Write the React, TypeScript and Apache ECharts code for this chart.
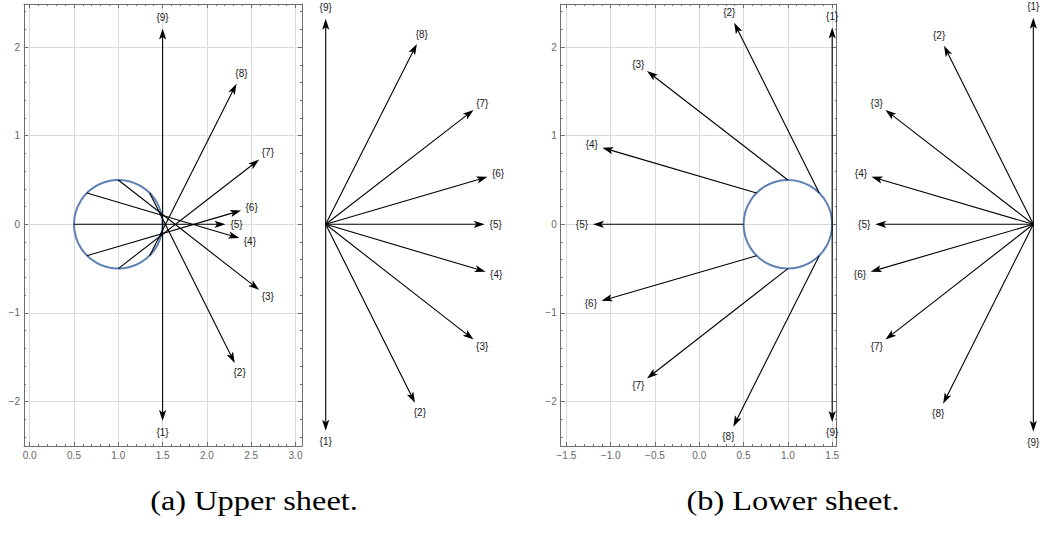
import React, { useEffect, useRef } from 'react';
import * as echarts from 'echarts';

// ---------- data ----------
const arrowLabels = ['{1}', '{2}', '{3}', '{4}', '{5}', '{6}', '{7}', '{8}', '{9}'];
// arrow start points on the circle (both sheets)
const startX = [1.5, 1.354, 1.0, 0.646, 0.5, 0.646, 1.0, 1.354, 1.5];
const startY = [0, 0.354, 0.5, 0.354, 0, -0.354, -0.5, -0.354, 0];
// arrow vectors, upper sheet
const upperDX = [0, 0.96, 1.59, 1.72, 1.71, 1.74, 1.59, 0.98, 0];
const upperDY = [-2.22, -1.92, -1.24, -0.51, 0, 0.51, 1.23, 1.94, 2.21];
// arrow vectors, lower sheet
const lowerDX = [0, -0.96, -1.59, -1.74, -1.7, -1.75, -1.59, -0.97, 0];
const lowerDY = [2.22, 1.92, 1.23, 0.51, 0, -0.51, -1.24, -1.93, -2.23];
const circle = [1, 0, 0.5]; // cx, cy, r
const upperXTicks = [0, 0.5, 1, 1.5, 2, 2.5, 3];
const lowerXTicks = [-1.5, -1, -0.5, 0, 0.5, 1, 1.5];
const yTicks = [-2, -1, 0, 1, 2];
const captions = ['(a) Upper sheet.', '(b) Lower sheet.'];

// ---------- helpers ----------
const FRAME = '#6e6e6e';
const GRID = '#dadada';
const minus = (s: string) => s.replace('-', '\u2212');

function steps(a: number, b: number, st: number) {
  const out: number[] = [];
  const n = Math.round((b - a) / st);
  for (let i = 0; i <= n; i++) out.push(+(a + i * st).toFixed(3));
  return out;
}

function frameAxes(
  kind: 'x' | 'y',
  gridIndex: number,
  min: number,
  max: number,
  majors: number[],
  minors: number[],
  fmt: (v: number) => string
) {
  const posA = kind === 'x' ? 'bottom' : 'left';
  const posB = kind === 'x' ? 'top' : 'right';
  const base = { type: 'value', gridIndex, min, max, scale: true };
  const tick = (vals: number[], len: number) => ({
    show: true,
    inside: true,
    length: len,
    customValues: vals,
    lineStyle: { color: FRAME, width: 1 },
  });
  return [
    {
      ...base,
      position: posA,
      axisLine: { show: true, onZero: false, lineStyle: { color: FRAME, width: 1 } },
      axisTick: tick(majors, 4),
      axisLabel: {
        show: true,
        customValues: majors,
        formatter: (v: number) => fmt(v),
        color: '#666',
        fontSize: 10,
        fontFamily: 'Liberation Sans',
        margin: 4,
      },
      splitLine: { show: true, lineStyle: { color: GRID, width: 1 } },
    },
    {
      ...base,
      position: posA,
      axisLine: { show: false, onZero: false },
      axisTick: tick(minors, 2),
      axisLabel: { show: false },
      splitLine: { show: false },
    },
    {
      ...base,
      position: posB,
      axisLine: { show: true, onZero: false, lineStyle: { color: FRAME, width: 1 } },
      axisTick: tick(majors, 4),
      axisLabel: { show: false },
      splitLine: { show: false },
    },
    {
      ...base,
      position: posB,
      axisLine: { show: false, onZero: false },
      axisTick: tick(minors, 2),
      axisLabel: { show: false },
      splitLine: { show: false },
    },
  ];
}

function hiddenAxis(gridIndex: number, min: number, max: number) {
  return { type: 'value', gridIndex, min, max, show: false, splitLine: { show: false } };
}

function arrowSeries(xAxisIndex: number, yAxisIndex: number, data: number[][]) {
  return {
    type: 'custom',
    xAxisIndex,
    yAxisIndex,
    clip: false,
    z: 5,
    silent: true,
    encode: { x: [0, 2], y: [1, 3] },
    data,
    renderItem: (params: any, api: any) => {
      const p0 = api.coord([api.value(0), api.value(1)]);
      const p1 = api.coord([api.value(2), api.value(3)]);
      const dx = p1[0] - p0[0];
      const dy = p1[1] - p0[1];
      const L = Math.hypot(dx, dy) || 1;
      const ux = dx / L;
      const uy = dy / L;
      const nx = -uy;
      const ny = ux;
      const HL = 11;
      const HW = 3.6;
      const NOTCH = 2.5;
      const bx = p1[0] - ux * HL;
      const by = p1[1] - uy * HL;
      const mx = p1[0] - ux * (HL - NOTCH);
      const my = p1[1] - uy * (HL - NOTCH);
      const lx = p1[0] + ux * 11;
      const ly = p1[1] + uy * 11;
      return {
        type: 'group',
        children: [
          {
            type: 'line',
            shape: { x1: p0[0], y1: p0[1], x2: mx, y2: my },
            style: { stroke: '#000', lineWidth: 1.1 },
          },
          {
            type: 'polygon',
            shape: {
              points: [
                [p1[0], p1[1]],
                [bx + nx * HW, by + ny * HW],
                [mx, my],
                [bx - nx * HW, by - ny * HW],
              ],
            },
            style: { fill: '#000', stroke: 'none' },
          },
          {
            type: 'text',
            x: lx,
            y: ly,
            style: {
              text: arrowLabels[params.dataIndex],
              fill: '#1a1a1a',
              fontSize: 10,
              fontFamily: 'Liberation Sans',
              align: 'center',
              verticalAlign: 'middle',
            },
          },
        ],
      };
    },
  };
}

function circleSeries(xAxisIndex: number, yAxisIndex: number) {
  return {
    type: 'custom',
    xAxisIndex,
    yAxisIndex,
    clip: false,
    z: 4,
    silent: true,
    encode: { x: 0, y: 1 },
    data: [circle],
    renderItem: (params: any, api: any) => {
      const c = api.coord([api.value(0), api.value(1)]);
      const r = api.size([api.value(2), 0])[0];
      return {
        type: 'circle',
        shape: { cx: c[0], cy: c[1], r },
        style: { fill: 'none', stroke: '#5E81B5', lineWidth: 2 },
      };
    },
  };
}

export default function App() {
  const ref = useRef<HTMLDivElement>(null);
  useEffect(() => {
    if (!ref.current) return;
    const chart = echarts.init(ref.current, undefined, { renderer: 'svg' });

    const upperLeft = arrowLabels.map((_, i) => [
      startX[i],
      startY[i],
      startX[i] + upperDX[i],
      startY[i] + upperDY[i],
    ]);
    const upperFan = arrowLabels.map((_, i) => [0, 0, upperDX[i], upperDY[i]]);
    const lowerLeft = arrowLabels.map((_, i) => [
      startX[i],
      startY[i],
      startX[i] + lowerDX[i],
      startY[i] + lowerDY[i],
    ]);
    const lowerFan = arrowLabels.map((_, i) => [0, 0, lowerDX[i], lowerDY[i]]);

    const yMin = -2.502;
    const yMax = 2.486;
    const fmtX = (v: number) => minus(v.toFixed(1));
    const fmtY = (v: number) => minus(String(v));

    const xAxes: any[] = [
      ...frameAxes('x', 0, -0.0643, 3.0734, upperXTicks, steps(0, 3, 0.1), fmtX), // 0-3
      hiddenAxis(1, -0.1, 2.0), // 4
      ...frameAxes('x', 2, -1.564, 1.551, lowerXTicks, steps(-1.5, 1.5, 0.1), fmtX), // 5-8
      hiddenAxis(3, -2.0, 0.09), // 9
    ];
    const yAxes: any[] = [
      ...frameAxes('y', 0, yMin, yMax, yTicks, steps(-2.4, 2.4, 0.2), fmtY), // 0-3
      hiddenAxis(1, -2.4, 2.4), // 4
      ...frameAxes('y', 2, yMin, yMax, yTicks, steps(-2.4, 2.4, 0.2), fmtY), // 5-8
      hiddenAxis(3, -2.4, 2.4), // 9
    ];

    chart.setOption({
      animation: false,
      backgroundColor: '#ffffff',
      grid: [
        { left: 24, top: 4, width: 278, height: 442 },
        { left: 316.4, top: 1.1, width: 195.3, height: 446.4 },
        { left: 560.7, top: 4, width: 276, height: 442 },
        { left: 847.3, top: 1.1, width: 194.4, height: 446.4 },
      ],
      xAxis: xAxes,
      yAxis: yAxes,
      series: [
        circleSeries(0, 0),
        arrowSeries(0, 0, upperLeft),
        arrowSeries(4, 4, upperFan),
        circleSeries(5, 5),
        arrowSeries(5, 5, lowerLeft),
        arrowSeries(9, 9, lowerFan),
      ],
      graphic: [
        {
          type: 'text',
          x: 254,
          y: 500,
          scaleX: 1.2,
          style: {
            text: captions[0],
            fill: '#000',
            fontSize: 27,
            fontFamily: 'Liberation Serif',
            align: 'center',
            verticalAlign: 'middle',
          },
        },
        {
          type: 'text',
          x: 793,
          y: 500,
          scaleX: 1.2,
          style: {
            text: captions[1],
            fill: '#000',
            fontSize: 27,
            fontFamily: 'Liberation Serif',
            align: 'center',
            verticalAlign: 'middle',
          },
        },
      ],
    });
    return () => chart.dispose();
  }, []);
  return (
    <div
      ref={ref}
      style={{ position: 'fixed', left: 0, top: 0, width: 1042, height: 536, background: '#fff' }}
    />
  );
}
